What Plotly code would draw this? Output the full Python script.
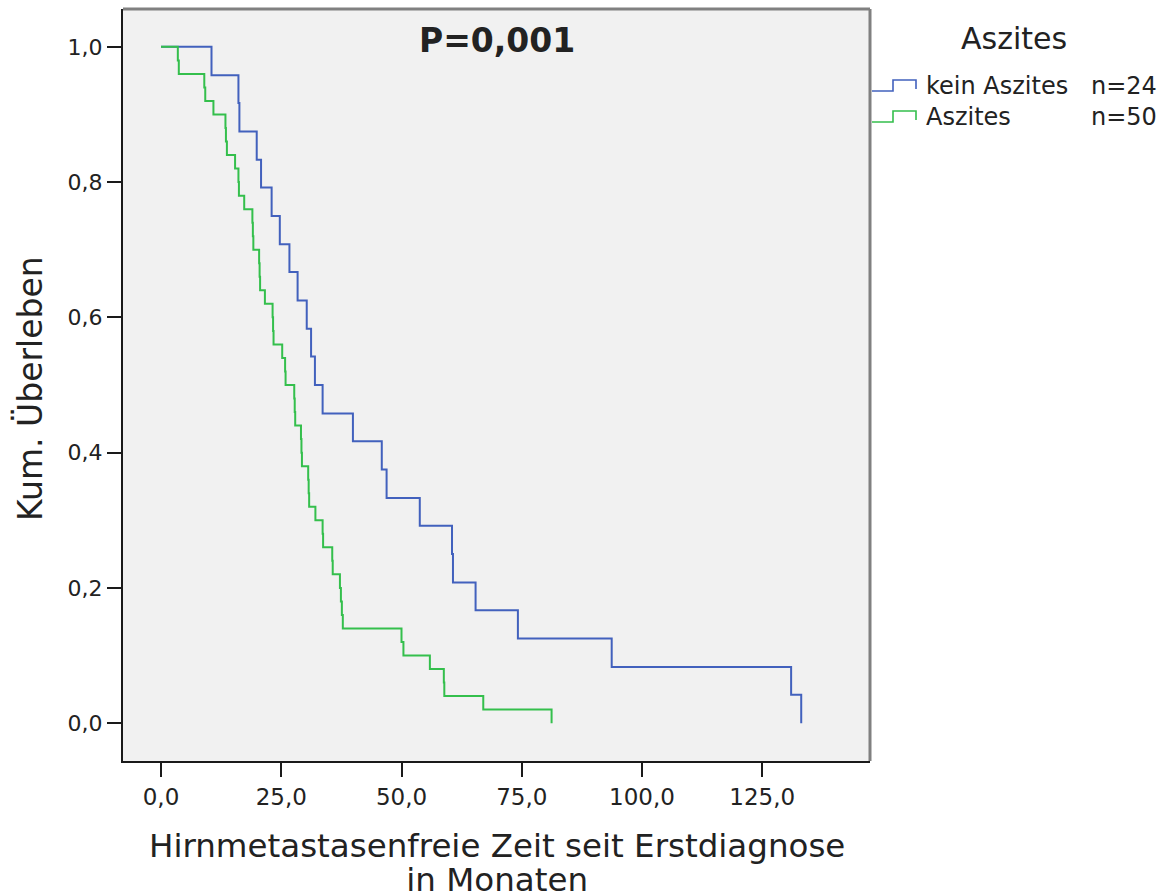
import plotly.graph_objects as go

# ---------------- data ----------------
blue_name = "kein Aszites"
blue_n = "n=24"
blue_t = [10.5, 16.1, 16.3, 19.9, 20.8, 23.0, 24.7, 26.7, 28.4, 30.3, 31.2, 32.0,
          33.6, 39.9, 45.9, 46.9, 53.8, 60.5, 60.7, 65.4, 74.2, 93.7, 131.0, 133.1]
blue_s = [0.958, 0.917, 0.875, 0.833, 0.792, 0.750, 0.708, 0.667, 0.625, 0.583, 0.542, 0.500,
          0.458, 0.417, 0.375, 0.333, 0.292, 0.250, 0.208, 0.167, 0.125, 0.083, 0.042, 0.0]

green_name = "Aszites"
green_n = "n=50"
green_t = [3.5, 3.7, 9.0, 9.2, 10.9, 13.4, 13.5, 13.7, 15.4, 16.1, 16.2, 17.3,
           19.0, 19.1, 19.2, 20.4, 20.5, 20.6, 21.6, 23.2, 23.3, 23.4, 25.2, 25.8,
           25.9, 27.7, 27.8, 27.9, 29.1, 29.2, 29.3, 30.6, 30.7, 30.8, 32.1, 33.6,
           33.7, 35.6, 35.7, 37.2, 37.4, 37.6, 37.8, 50.0, 50.4, 55.9, 58.8, 58.9,
           67.0, 81.2]
green_s = [0.98, 0.96, 0.94, 0.92, 0.90, 0.88, 0.86, 0.84, 0.82, 0.80, 0.78, 0.76,
           0.74, 0.72, 0.70, 0.68, 0.66, 0.64, 0.62, 0.60, 0.58, 0.56, 0.54, 0.52,
           0.50, 0.48, 0.46, 0.44, 0.42, 0.40, 0.38, 0.36, 0.34, 0.32, 0.30, 0.28,
           0.26, 0.24, 0.22, 0.20, 0.18, 0.16, 0.14, 0.12, 0.10, 0.08, 0.06, 0.04,
           0.02, 0.00]

x_ticks = [0, 25, 50, 75, 100, 125]
x_tick_labels = ["0,0", "25,0", "50,0", "75,0", "100,0", "125,0"]
y_ticks = [0.0, 0.2, 0.4, 0.6, 0.8, 1.0]
y_tick_labels = ["0,0", "0,2", "0,4", "0,6", "0,8", "1,0"]

p_text = "P=0,001"
legend_title = "Aszites"
x_title_lines = ["Hirnmetastasenfreie Zeit seit Erstdiagnose", "in Monaten"]
y_title = "Kum. Überleben"

# ---------------- styling ----------------
BLUE = "#4261bd"
GREEN = "#34bf4c"
TXT = "#222222"
FONT = "DejaVu Sans"

W, H = 1165, 894
L, R, T, B = 123, 870, 9, 761


def px(x):
    return (x - L) / (R - L)


def py(y):
    return (B - y) / (B - T)


fig = go.Figure()
fig.add_trace(go.Scatter(x=[0] + blue_t, y=[1.0] + blue_s, mode="lines", name=blue_name,
                         line=dict(color=BLUE, width=2, shape="hv"), showlegend=False))
fig.add_trace(go.Scatter(x=[0] + green_t, y=[1.0] + green_s, mode="lines", name=green_name,
                         line=dict(color=GREEN, width=2, shape="hv"), showlegend=False))

# x-axis title: base font 26 gives the tight 34 px line spacing of the reference,
# while the glyphs themselves are drawn at 32.5 px
x_title_text = "<br>".join(
    f"<span style='font-size:32.5px'>{s}</span>" for s in x_title_lines)

annotations = [
    dict(text=f"<b>{p_text}</b>", x=px(497), y=py(41), xref="paper", yref="paper",
         xanchor="center", yanchor="middle", showarrow=False,
         font=dict(family=FONT, size=33, color=TXT)),
    dict(text=x_title_text, x=px(497), y=py(863), xref="paper", yref="paper",
         xanchor="center", yanchor="middle", showarrow=False,
         font=dict(family=FONT, size=26, color=TXT)),
    dict(text=y_title, x=px(30), y=py(389), xref="paper", yref="paper",
         xanchor="center", yanchor="middle", showarrow=False, textangle=-90,
         font=dict(family=FONT, size=33, color=TXT)),
    dict(text=legend_title, x=px(1014), y=py(39), xref="paper", yref="paper",
         xanchor="center", yanchor="middle", showarrow=False,
         font=dict(family=FONT, size=30, color=TXT)),
]

legend_rows = [(blue_name, blue_n, BLUE, 86), (green_name, green_n, GREEN, 117)]
shapes = [
    # top and right frame (gray)
    dict(type="line", xref="paper", yref="paper", x0=0, x1=1, y0=1, y1=1,
         line=dict(color="#808080", width=3)),
    dict(type="line", xref="paper", yref="paper", x0=1, x1=1, y0=0, y1=1,
         line=dict(color="#808080", width=3)),
]
for name, n, col, yc in legend_rows:
    lo, hi = yc + 5, yc - 6
    path = (f"M {px(872)},{py(lo)} L {px(893)},{py(lo)} L {px(893)},{py(hi)} "
            f"L {px(916)},{py(hi)} L {px(916)},{py(lo - 2)}")
    shapes.append(dict(type="path", xref="paper", yref="paper", path=path,
                       line=dict(color=col, width=1.6)))
    annotations.append(dict(text=name, x=px(924), y=py(yc), xref="paper", yref="paper",
                            xanchor="left", yanchor="middle", showarrow=False,
                            font=dict(family=FONT, size=24, color=TXT)))
    annotations.append(dict(text=n, x=px(1089), y=py(yc), xref="paper", yref="paper",
                            xanchor="left", yanchor="middle", showarrow=False,
                            font=dict(family=FONT, size=24, color=TXT)))

fig.update_layout(
    width=W, height=H,
    margin=dict(l=L, r=W - R, t=T, b=H - B, pad=0),
    paper_bgcolor="white",
    plot_bgcolor="#f1f1f1",
    showlegend=False,
    annotations=annotations,
    shapes=shapes,
    font=dict(family=FONT, color=TXT),
)
fig.update_xaxes(
    range=[-7.9, 147.4], tickmode="array", tickvals=x_ticks, ticktext=x_tick_labels,
    ticks="outside", ticklen=14, tickwidth=2, tickcolor="#1a1a1a",
    showline=True, linecolor="#1a1a1a", linewidth=2, mirror=False,
    showgrid=False, zeroline=False,
    tickfont=dict(family=FONT, size=23, color=TXT),
)
fig.update_yaxes(
    range=[-0.056, 1.056], tickmode="array", tickvals=y_ticks, ticktext=y_tick_labels,
    ticks="outside", ticklen=14, tickwidth=2, tickcolor="#1a1a1a",
    showline=True, linecolor="#1a1a1a", linewidth=2, mirror=False,
    showgrid=False, zeroline=False,
    tickfont=dict(family=FONT, size=22, color=TXT),
)

fig.write_html("out.html")
